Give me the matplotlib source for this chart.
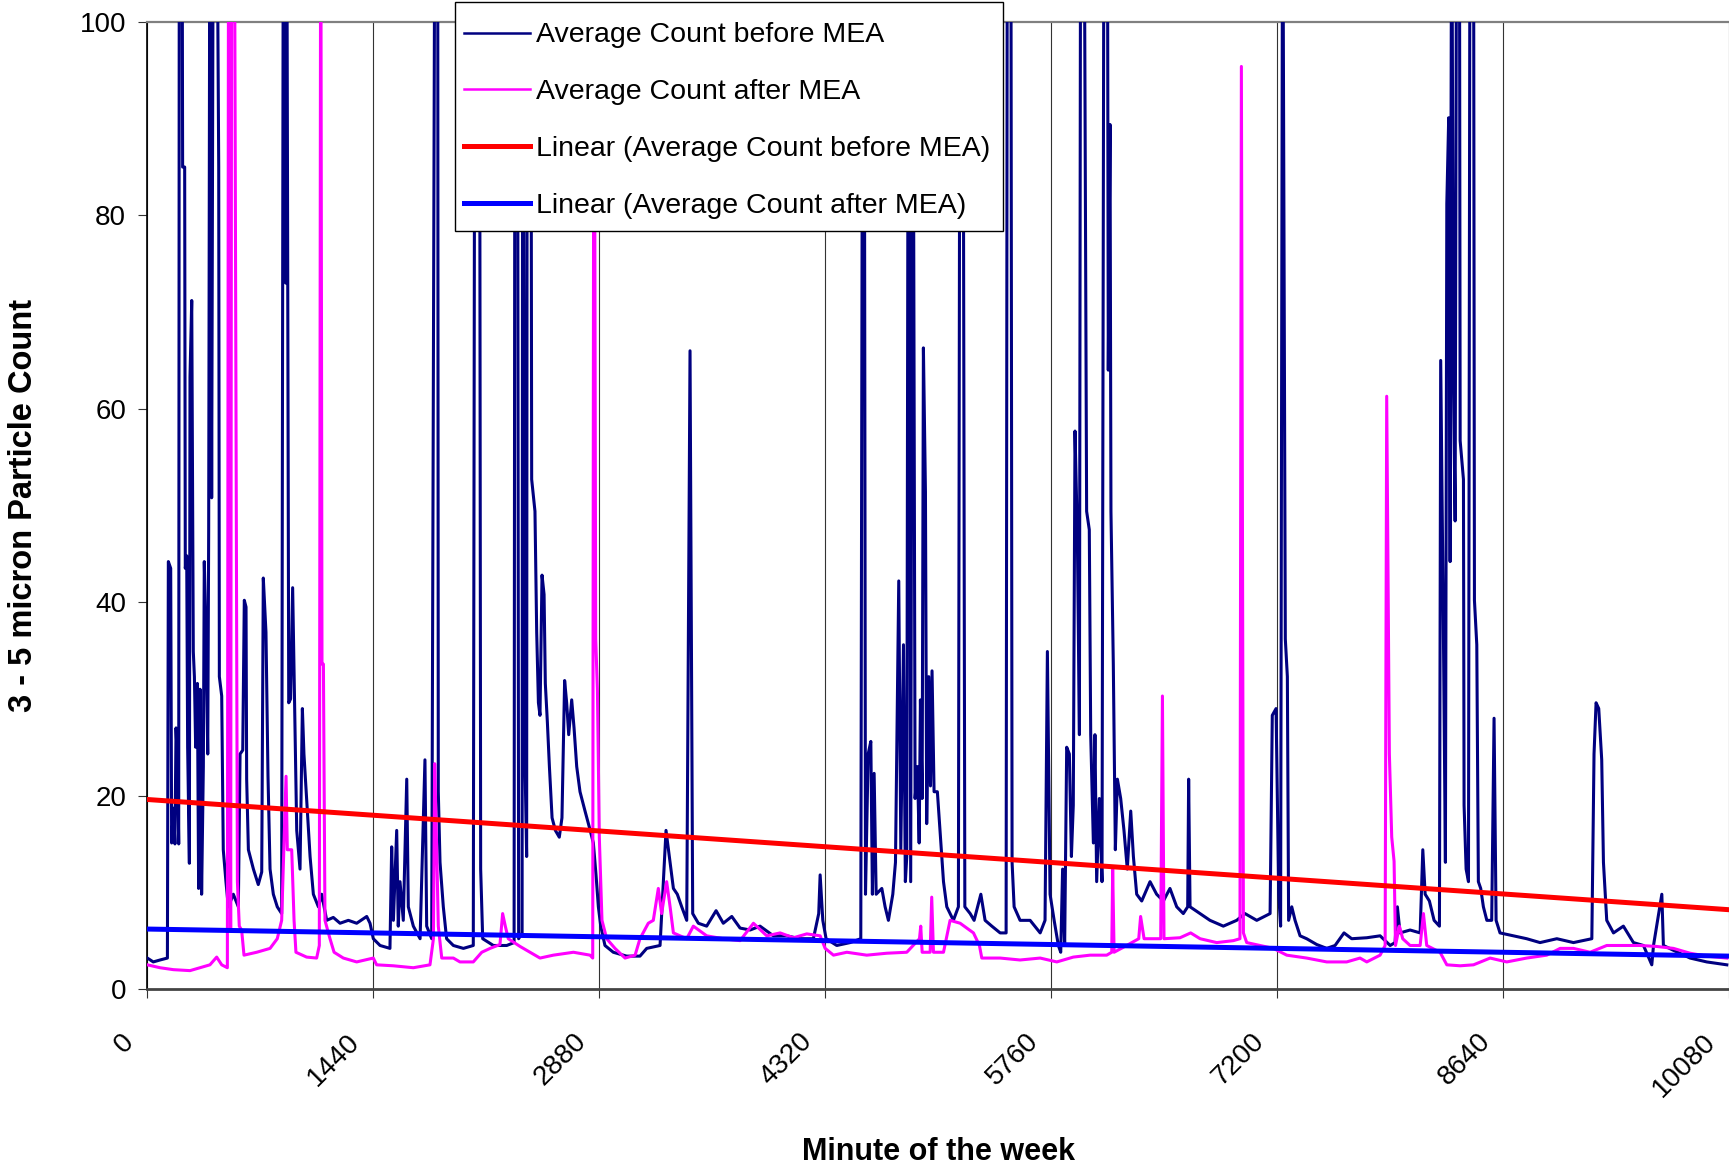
import matplotlib
matplotlib.use("Agg")
import matplotlib.pyplot as plt
from matplotlib.patches import Rectangle
from matplotlib.transforms import ScaledTranslation

plt.rcParams['font.family'] = ['Liberation Sans', 'DejaVu Sans']

# ---- data: 3-5 micron particle counts by minute of the week ----
# (values above 100 run off the top of the chart)
before_min = [2, 40, 83, 130, 136, 151, 157, 168, 178, 185, 195, 202, 206, 223, 227, 240, 244, 253, 259, 270,
              274, 285, 295, 302, 310, 321, 329, 338, 348, 359, 365, 376, 387, 393, 401, 412, 423, 444, 457, 461,
              476, 486, 503, 518, 550, 582, 593, 610, 620, 631, 635, 646, 678, 709, 731, 741, 758, 771, 784, 805,
              830, 858, 869, 884, 890, 903, 915, 928, 937, 954, 975, 990, 1000, 1017, 1039, 1060, 1092, 1113, 1145, 1187,
              1230, 1283, 1336, 1400, 1421, 1442, 1485, 1548, 1559, 1570, 1591, 1601, 1612, 1633, 1655, 1665, 1697, 1740, 1771, 1782,
              1814, 1835, 1852, 1856, 1867, 1888, 1909, 1952, 2016, 2079, 2090, 2118, 2126, 2139, 2207, 2292, 2339, 2345, 2360, 2368,
              2390, 2394, 2409, 2419, 2423, 2445, 2451, 2472, 2483, 2494, 2504, 2517, 2530, 2538, 2551, 2564, 2581, 2602, 2627, 2644,
              2661, 2674, 2687, 2706, 2721, 2738, 2759, 2791, 2819, 2844, 2861, 2876, 2891, 2918, 2971, 3056, 3141, 3184, 3269, 3307,
              3333, 3354, 3379, 3407, 3439, 3460, 3477, 3513, 3566, 3626, 3672, 3726, 3779, 3843, 3906, 3991, 4076, 4161, 4246, 4280,
              4289, 4306, 4327, 4395, 4480, 4548, 4561, 4569, 4578, 4595, 4612, 4622, 4633, 4646, 4682, 4703, 4724, 4752, 4769, 4790,
              4803, 4820, 4832, 4841, 4852, 4866, 4879, 4894, 4909, 4920, 4928, 4939, 4947, 4960, 4968, 4981, 4992, 5002, 5015, 5036,
              5053, 5075, 5096, 5138, 5170, 5181, 5198, 5211, 5245, 5270, 5313, 5340, 5383, 5436, 5474, 5482, 5504, 5512, 5525, 5563,
              5627, 5691, 5722, 5737, 5754, 5780, 5807, 5822, 5834, 5847, 5860, 5877, 5890, 5902, 5913, 5928, 5941, 5949, 5970, 5987,
              6004, 6013, 6030, 6040, 6051, 6068, 6085, 6098, 6119, 6125, 6136, 6142, 6157, 6170, 6183, 6204, 6225, 6246, 6268, 6285,
              6306, 6338, 6391, 6433, 6476, 6518, 6561, 6603, 6631, 6637, 6646, 6710, 6773, 6858, 6943, 6996, 7071, 7156, 7170, 7194,
              7211, 7223, 7236, 7253, 7266, 7274, 7294, 7315, 7347, 7389, 7453, 7517, 7570, 7627, 7676, 7772, 7857, 7921, 7952, 7967,
              7984, 8048, 8112, 8129, 8144, 8171, 8201, 8235, 8243, 8260, 8273, 8282, 8294, 8303, 8313, 8324, 8335, 8345, 8362, 8367,
              8388, 8392, 8405, 8420, 8430, 8452, 8458, 8473, 8483, 8498, 8515, 8537, 8568, 8583, 8596, 8621, 8706, 8791, 8876, 8983,
              9089, 9206, 9220, 9233, 9250, 9269, 9280, 9301, 9344, 9407, 9471, 9535, 9588, 9599, 9652, 9662, 9726, 9832, 9938, 10066]
before_cnt = [3.2, 2.8, 3.0, 3.2, 44.2, 43.5, 15.1, 18.7, 15.0, 27.0, 23.0, 15.0, 120, 120, 85, 85, 43.5, 44.8, 25, 13,
              63.3, 71.2, 34.9, 32.3, 25, 31.6, 10.4, 31, 9.8, 23, 44.2, 36.2, 24.3, 47.5, 120, 50.8, 120, 120, 85, 32.3,
              30.3, 14.4, 11.1, 8.5, 9.8, 8.5, 24.3, 24.7, 40.2, 39.5, 21.7, 14.4, 12.4, 10.8, 12.1, 42.5, 36.9, 22, 12.4, 9.8,
              8.5, 7.8, 120, 73, 120, 29.6, 30, 41.5, 32.9, 16.4, 12.4, 29, 24.3, 19.7, 13.7, 9.8, 8.5, 9.8, 7.1, 7.4,
              6.8, 7.1, 6.8, 7.5, 6.8, 5.2, 4.5, 4.2, 14.7, 7.1, 16.4, 6.5, 11.1, 7.1, 21.7, 8.5, 6.5, 5.2, 23.7, 6.5,
              5.2, 120, 120, 20.4, 13.1, 8.5, 5.2, 4.5, 4.2, 4.5, 120, 120, 12.4, 5.2, 4.5, 4.5, 4.8, 120, 120, 5.2,
              5.8, 120, 23, 13.7, 120, 120, 52.7, 49.4, 36.9, 29.6, 28.3, 42.8, 40.8, 31.6, 27.6, 23, 17.7, 16.4, 15.7, 17.7,
              31.9, 29.6, 26.3, 29.9, 27, 23, 20.4, 18.4, 16.7, 15.1, 11.8, 8.5, 6.5, 4.5, 3.8, 3.4, 3.4, 4.2, 4.5, 16.4,
              13.1, 10.4, 9.8, 8.5, 7.1, 66, 7.8, 6.8, 6.5, 8.1, 6.8, 7.5, 6.3, 6.1, 6.5, 5.5, 5.5, 5.2, 5.2, 7.8,
              11.8, 7.1, 5.2, 4.5, 4.8, 5.2, 120, 120, 9.8, 24.3, 25.6, 9.8, 22.3, 9.8, 10.4, 8.5, 7.1, 9.8, 13.1, 42.2,
              14.4, 35.6, 11.1, 13.7, 120, 11.1, 120, 19.7, 23, 15.1, 29.9, 19.7, 66.3, 51.4, 17.1, 32.3, 21, 32.9, 20.4, 20.4,
              16.4, 11.1, 8.5, 7.1, 8.5, 120, 120, 8.5, 7.8, 7.1, 9.8, 7.1, 6.5, 5.8, 5.8, 120, 120, 13.1, 8.5, 7.1,
              7.1, 5.8, 7.1, 34.9, 9.8, 7.1, 4.5, 3.8, 12.4, 4.5, 25, 24.3, 13.7, 19, 57.7, 46.8, 26.3, 120, 120, 49.4,
              47.5, 26.3, 15.1, 26.3, 11.1, 19.7, 11.1, 120, 120, 64, 89.4, 49.4, 33.6, 14.4, 21.7, 19.7, 16.4, 12.4, 18.4, 13.7,
              9.8, 9.1, 11.1, 9.8, 9.1, 10.4, 8.5, 7.8, 8.5, 21.7, 8.5, 7.8, 7.1, 6.5, 7.1, 7.8, 7.1, 7.8, 28.3, 29,
              9.8, 6.5, 120, 36.2, 32.3, 7.1, 8.5, 7.1, 5.5, 5.2, 4.6, 4.2, 4.5, 5.8, 5.2, 5.3, 5.5, 4.5, 4.8, 8.5,
              5.8, 6.1, 5.8, 14.4, 9.8, 9.1, 7.1, 6.5, 65, 37.5, 13.1, 81.2, 90.1, 44.2, 120, 62.7, 48.4, 120, 120, 56.7,
              52.7, 19, 12.4, 11.1, 120, 120, 40.2, 35.6, 11.1, 10.4, 8.5, 7.1, 7.1, 28, 7.1, 5.8, 5.5, 5.2, 4.8, 5.2,
              4.8, 5.2, 24.3, 29.6, 29, 23.7, 13.1, 7.1, 5.8, 6.5, 4.8, 4.5, 2.5, 4.5, 9.8, 4.5, 4.0, 3.2, 2.8, 2.5]

after_min = [2, 83, 168, 274, 338, 401, 444, 476, 512, 520, 533, 540, 556, 576, 588, 603, 618, 699, 784, 830,
             858, 873, 886, 894, 922, 937, 949, 1017, 1081, 1098, 1107, 1115, 1124, 1134, 1166, 1192, 1251, 1336, 1442, 1463,
             1570, 1697, 1803, 1825, 1833, 1846, 1856, 1878, 1952, 1994, 2079, 2133, 2186, 2249, 2266, 2283, 2302, 2377, 2440, 2504,
             2589, 2717, 2823, 2840, 2848, 2859, 2870, 2882, 2899, 2929, 2982, 3046, 3110, 3141, 3194, 3226, 3258, 3279, 3311, 3333,
             3354, 3439, 3481, 3566, 3672, 3779, 3864, 3949, 4034, 4119, 4204, 4289, 4321, 4374, 4459, 4586, 4714, 4841, 4922, 4930,
             4939, 4990, 5000, 5011, 5075, 5117, 5181, 5266, 5304, 5319, 5436, 5563, 5691, 5797, 5902, 6009, 6115, 6147, 6153, 6162,
             6242, 6319, 6331, 6353, 6459, 6470, 6480, 6582, 6650, 6710, 6816, 6922, 6964, 6973, 6986, 7007, 7092, 7177, 7262, 7389,
             7517, 7644, 7729, 7772, 7857, 7889, 7899, 7916, 7931, 7946, 7955, 7980, 8001, 8048, 8112, 8133, 8154, 8239, 8282, 8367,
             8452, 8558, 8664, 8791, 8919, 9004, 9089, 9195, 9301, 9407, 9514, 9620, 9726, 9832, 9938, 10066]
after_cnt = [2.5, 2.2, 2.0, 1.9, 2.2, 2.5, 3.3, 2.5, 2.2, 120, 6.0, 120, 120, 11.1, 6.5, 6.1, 3.5, 3.8, 4.2, 5.2,
             7.1, 15.1, 22, 14.4, 14.4, 7.1, 3.8, 3.3, 3.2, 4.5, 120, 33.6, 33.6, 7.1, 5.2, 3.8, 3.2, 2.8, 3.2, 2.5,
             2.4, 2.2, 2.5, 5.2, 23.3, 14.4, 6.5, 3.2, 3.2, 2.8, 2.8, 3.8, 4.2, 4.6, 7.8, 6.5, 5.2, 4.4, 3.8, 3.2,
             3.5, 3.8, 3.5, 3.2, 120, 36.2, 30.9, 15.7, 7.1, 5.2, 4.2, 3.2, 3.5, 5.2, 6.8, 7.1, 10.4, 7.8, 11.1, 8.5,
             5.8, 5.2, 6.5, 5.5, 5.2, 5.0, 6.8, 5.5, 5.8, 5.3, 5.7, 5.5, 4.2, 3.5, 3.8, 3.5, 3.7, 3.8, 5.2, 6.5,
             3.8, 3.8, 9.5, 3.8, 3.8, 7.1, 6.8, 5.8, 4.5, 3.2, 3.2, 3.0, 3.2, 2.8, 3.3, 3.5, 3.5, 3.8, 12.4, 3.8,
             4.5, 5.2, 7.5, 5.2, 5.2, 30.3, 5.2, 5.3, 5.8, 5.2, 4.8, 5.0, 5.2, 95.4, 5.8, 4.8, 4.5, 4.2, 3.5, 3.2,
             2.8, 2.8, 3.2, 2.8, 3.5, 4.5, 61.3, 24.3, 15.7, 13.2, 4.5, 6.5, 5.2, 4.5, 4.5, 7.8, 4.5, 3.8, 2.5, 2.4,
             2.5, 3.2, 2.8, 3.2, 3.5, 4.2, 4.2, 3.8, 4.5, 4.5, 4.5, 4.4, 4.2, 3.7, 3.4, 3.2]

# linear trend lines (start / end of week)
trend_min = [0, 10080]
trend_before = [19.6, 8.2]
trend_after = [6.2, 3.4]

xtick_vals = [0, 1440, 2880, 4320, 5760, 7200, 8640, 10080]
ytick_vals = [0, 20, 40, 60, 80, 100]

series_labels = ["Average Count before MEA", "Average Count after MEA",
                 "Linear (Average Count before MEA)", "Linear (Average Count after MEA)"]

# ---- figure ----
W, H = 1729, 1168
fig = plt.figure(figsize=(W / 100, H / 100), dpi=100)
left, right, top, bottom = 147, 1729, 22, 989
ax = fig.add_axes([left / W, 1 - bottom / H, (right - left) / W, (bottom - top) / H])

l1, = ax.plot(before_min, before_cnt, color='#000080', lw=2.2, zorder=3)
l2, = ax.plot(after_min, after_cnt, color='#FF00FF', lw=2.2, zorder=4)
l3, = ax.plot(trend_min, trend_before, color='#FF0000', lw=3.6, zorder=5)
l4, = ax.plot(trend_min, trend_after, color='#0000FF', lw=3.6, zorder=6)

ax.set_xlim(0, 10080)
ax.set_ylim(0, 100)

ax.set_xticks(xtick_vals)
ax.set_yticks(ytick_vals)
ax.set_xticklabels([str(v) for v in xtick_vals])
ax.set_yticklabels([str(v) for v in ytick_vals])

ax.grid(axis='x', color='#333333', lw=0.8, zorder=1)
ax.grid(axis='y', visible=False)

ax.tick_params(axis='both', direction='out', length=6.5, width=0.8, color='#333333', labelsize=20)
ax.tick_params(axis='y', pad=8.5)
ax.tick_params(axis='x', pad=22)

for lab in ax.get_xticklabels():
    lab.set_rotation(45)
    lab.set_ha('right')
    lab.set_va('top')
    lab.set_rotation_mode('anchor')
    lab.set_transform(lab.get_transform() + ScaledTranslation(-26 / 100, 0, fig.dpi_scale_trans))

ax.spines['left'].set_color('black')
ax.spines['left'].set_linewidth(1.2)
ax.spines['bottom'].set_color('#444444')
ax.spines['bottom'].set_linewidth(2.0)
ax.spines['top'].set_color('#808080')
ax.spines['top'].set_linewidth(1.6)
ax.spines['right'].set_visible(False)

ax.set_xlabel("Minute of the week", fontsize=22, fontweight='bold')
ax.xaxis.set_label_coords(0.5, (bottom - 1152) / (bottom - top))
ax.xaxis.label.set_va('center')
ax.set_ylabel("3 - 5 micron Particle Count", fontsize=23.5, fontweight='bold')
ax.yaxis.set_label_coords((24 - left) / (right - left), 0.5)
ax.yaxis.label.set_va('center')

# legend box, drawn over the plot lines
box = Rectangle((455 / W, 1 - 231 / H), 548 / W, 229 / H, transform=fig.transFigure,
                facecolor='white', edgecolor='black', lw=1.0, clip_on=False, zorder=9)
ax.add_patch(box)
leg = ax.legend([l1, l2, l3, l4], series_labels, loc='upper left',
                bbox_to_anchor=(464 / W, 1 - 22.5 / H), bbox_transform=fig.transFigure,
                borderaxespad=0, borderpad=0, fontsize=20.5, frameon=False,
                handlelength=2.32, handletextpad=0.2, labelspacing=1.08)
for h in leg.legend_handles[:2]:
    h.set_linewidth(1.8)
leg.set_zorder(10)

fig.savefig("out.png", dpi=100)
